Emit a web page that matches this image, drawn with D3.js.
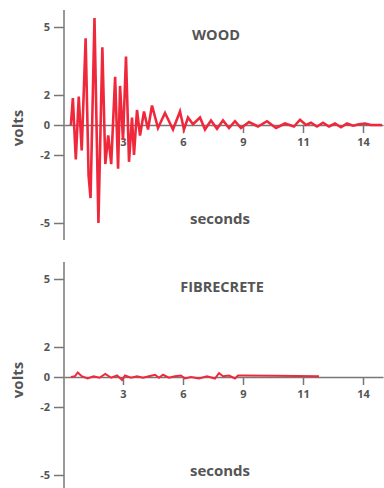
<!DOCTYPE html>
<html>
<head>
<meta charset="utf-8">
<script src="https://cdn.jsdelivr.net/npm/d3@7"></script>
<style>
  body { margin: 0; background: #fff; }
  text { font-family: "Open Sans", Lato, sans-serif; font-weight: 700; fill: #555; }
</style>
</head>
<body>
<svg id="plot"></svg>
<script>
// tick labels (equally spaced on the page, so scales are piecewise)
const xTicks = [3, 6, 9, 11, 14];
const yTicks = [5, 2, 0, -2, -5];
const panelTitles = ["WOOD", "FIBRECRETE"];

// wood trace: [seconds, volts]
const woodTime = [0.35, 0.45, 0.6, 0.75, 0.9, 1.1, 1.25, 1.35, 1.55, 1.75, 1.95, 2.1, 2.25, 2.4, 2.6, 2.75, 2.85, 3.0, 3.15, 3.3, 3.45, 3.55, 3.7, 3.85, 4.05, 4.25, 4.45, 4.75, 5.1, 5.5, 5.85, 6.05, 6.25, 6.5, 6.85, 7.1, 7.4, 7.7, 8.0, 8.3, 8.6, 8.9, 9.2, 9.5, 9.8, 10.1, 10.4, 10.7, 10.9, 11.15, 11.4, 11.7, 12.0, 12.3, 12.6, 12.9, 13.2, 13.5, 13.8, 14.1, 14.4, 14.95];
const woodVolts = [0, 1.8, -2.2, 1.9, -1.7, 4.5, -2.9, -3.9, 5.4, -5.0, 4.1, -2.4, -0.7, -2.4, 2.8, -2.6, 2.4, -1.0, 3.7, -2.3, 0.5, -2.0, 1.0, -0.7, 0.9, -0.3, 1.3, -0.2, 0.8, -0.3, 0.9, -0.3, 0.5, 0.05, 0.5, -0.3, 0.3, -0.25, 0.3, -0.2, 0.25, -0.2, 0.2, -0.1, 0.25, -0.2, 0.1, -0.1, 0.35, 0.0, 0.15, -0.1, 0.15, -0.1, 0.1, -0.15, 0.1, -0.05, 0.05, 0.1, 0.0, 0.0];

// fibrecrete trace: [seconds, volts]
const fibreTime = [0.35, 0.55, 0.7, 0.9, 1.2, 1.5, 1.8, 2.1, 2.4, 2.7, 2.95, 3.1, 3.4, 3.7, 4.0, 4.3, 4.6, 4.8, 5.0, 5.3, 5.6, 5.9, 6.1, 6.4, 6.8, 7.2, 7.6, 7.8, 8.0, 8.3, 8.6, 8.75, 9.0, 10.0, 11.8];
const fibreVolts = [0, 0.05, 0.3, 0.05, -0.1, 0.05, -0.05, 0.2, -0.05, 0.1, -0.2, 0.1, -0.05, 0.05, -0.05, 0.05, 0.15, -0.05, 0.15, -0.05, 0.05, 0.1, -0.1, 0.0, -0.1, 0.05, -0.1, 0.25, 0.05, 0.1, -0.1, 0.1, 0.1, 0.08, 0.05];

const series = [
  woodTime.map((t, i) => ({ t, v: woodVolts[i] })),
  fibreTime.map((t, i) => ({ t, v: fibreVolts[i] }))
];

const svg = d3.select("#plot").attr("width", 384).attr("height", 488);

const xScale = d3.scaleLinear()
  .domain([0, 3, 6, 9, 11, 14, 15])
  .range([64, 123, 183, 243, 303, 363, 383]);

const panelTop = [0, 252];
const axisSpan = [[10, 240], [262, 488]];
const titleX = [216, 222];

panelTop.forEach((off, p) => {
  const yScale = d3.scaleLinear()
    .domain([5, 2, 0, -2, -5])
    .range([27, 95, 125, 155, 223].map(d => d + off));

  const g = svg.append("g");

  // y axis line
  g.append("line")
    .attr("x1", 64).attr("x2", 64)
    .attr("y1", axisSpan[p][0]).attr("y2", axisSpan[p][1])
    .attr("stroke", "#777").attr("stroke-width", 1.5);

  const yAxis = d3.axisLeft(yScale)
    .tickValues(yTicks)
    .tickSize(10)
    .tickPadding(4)
    .tickFormat(d => String(d));
  const ya = g.append("g").attr("transform", "translate(64,0)").call(yAxis);
  ya.select(".domain").remove();
  ya.selectAll("line").attr("stroke", "#777").attr("stroke-width", 1.5);
  ya.selectAll("text").style("font-size", "11px").style("fill", "#555");

  // x axis at zero
  const xAxis = d3.axisBottom(xScale)
    .tickValues(xTicks)
    .tickSize(8)
    .tickPadding(5)
    .tickSizeOuter(0)
    .tickFormat(d => String(d));
  const xa = g.append("g").attr("transform", `translate(0,${yScale(0)})`).call(xAxis);
  xa.select(".domain").attr("stroke", "#777").attr("stroke-width", 1.5);
  xa.selectAll("line").attr("stroke", "#777").attr("stroke-width", 1.5);
  xa.selectAll("text").style("font-size", "11px").style("fill", "#555");

  // trace
  g.append("path")
    .datum(series[p])
    .attr("fill", "none")
    .attr("stroke", "#f0283c")
    .attr("stroke-width", p === 0 ? 2.6 : 2)
    .attr("stroke-linejoin", "miter")
    .attr("d", d3.line().x(d => xScale(d.t)).y(d => yScale(d.v)));

  // labels
  g.append("text")
    .attr("x", titleX[p]).attr("y", 40 + off)
    .attr("text-anchor", "middle")
    .style("font-size", "14.5px")
    .text(panelTitles[p]);

  g.append("text")
    .attr("x", 220).attr("y", 224 + off)
    .attr("text-anchor", "middle")
    .style("font-size", "15px")
    .text("seconds");

  g.append("text")
    .attr("transform", `translate(23,${128 + off}) rotate(-90)`)
    .attr("text-anchor", "middle")
    .style("font-size", "15px")
    .text("volts");
});
</script>
</body>
</html>
